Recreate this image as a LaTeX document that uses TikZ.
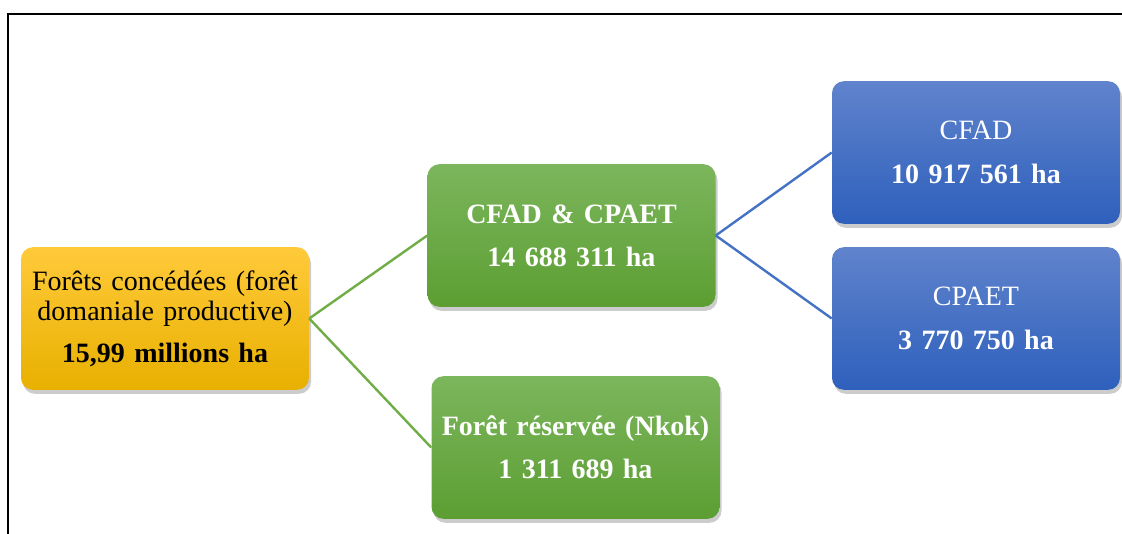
\documentclass[tikz,border=0pt]{standalone}
\usepackage{fontspec}
\setmainfont[WordSpace=0.8]{Liberation Serif}
\usepackage{tikz}
\usetikzlibrary{positioning,shadows}
\usepackage{xcolor}
\definecolor{ouroclaro}{RGB}{255,202,58}
\definecolor{ouroescuro}{RGB}{232,176,0}
\definecolor{verdeclaro}{RGB}{124,182,93}
\definecolor{verdeescuro}{RGB}{92,158,50}
\definecolor{verdelinha}{RGB}{112,173,71}
\definecolor{azulclaro}{RGB}{96,131,204}
\definecolor{azulescuro}{RGB}{46,96,188}
\definecolor{azullinha}{RGB}{68,114,196}

\begin{document}
\begin{tikzpicture}[x=0.75pt, y=-0.75pt,
        caixa/.style={rounded corners=9pt, text width=212pt, align=center, minimum width=216pt, minimum height=107pt, inner sep=0pt,
            font=\fontsize{21}{22.5}\selectfont,
            drop shadow={opacity=0.4, shadow xshift=1.5pt, shadow yshift=-3pt}},
        amarela/.style={caixa, top color=ouroclaro, bottom color=ouroescuro, text=black},
        verde/.style={caixa, top color=verdeclaro, bottom color=verdeescuro, text=white},
        azul/.style={caixa, top color=azulclaro, bottom color=azulescuro, text=white},
        ligacao/.style={line width=1.8pt}
    ]
        \useasboundingbox (0,0) rectangle (1122,533);
        % moldura
        \draw[line width=1.9pt] (8,540) -- (8,14) -- (1130,14);

        \node[amarela] (f0) at (165,318.5) {Forêts concédées (forêt\\domaniale productive)\\[9pt]\textbf{15,99 millions ha}};
        \node[verde] (f1) at (571.5,235.5) {\textbf{CFAD \& CPAET}\\[10pt]\textbf{14 688 311 ha}};
        \node[verde] (f2) at (575.5,447.5) {\textbf{Forêt réservée (Nkok)}\\[10pt]\textbf{1 311 689 ha}};
        \node[azul] (f3) at (976,152.5) {CFAD\\[10pt]\textbf{10 917 561 ha}};
        \node[azul] (f4) at (976,318.5) {CPAET\\[10pt]\textbf{3 770 750 ha}};

        \draw[ligacao, verdelinha] (f0.east) -- (f1.west);
        \draw[ligacao, verdelinha] (f0.east) -- (f2.west);
        \draw[ligacao, azullinha] (f1.east) -- (f3.west);
        \draw[ligacao, azullinha] (f1.east) -- (f4.west);

    \end{tikzpicture}
\end{document}
